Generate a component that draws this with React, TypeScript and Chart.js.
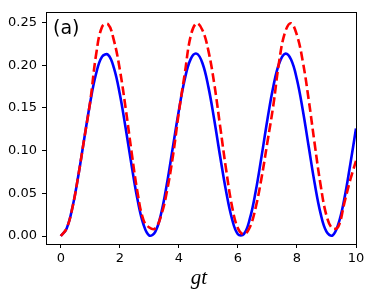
import React, { useEffect, useRef } from "react";
import { Chart, registerables } from "chart.js";

Chart.register(...registerables);

// time axis g*t
const gtValues = [
  0, 0.2, 0.4, 0.6, 0.8, 1.0, 1.2, 1.4, 1.6, 1.8,
  2.0, 2.2, 2.4, 2.6, 2.8, 3.0, 3.2, 3.4, 3.6, 3.8,
  4.0, 4.2, 4.4, 4.6, 4.8, 5.0, 5.2, 5.4, 5.6, 5.8,
  6.0, 6.2, 6.4, 6.6, 6.8, 7.0, 7.2, 7.4, 7.6, 7.8,
  8.0, 8.2, 8.4, 8.6, 8.8, 9.0, 9.2, 9.4, 9.6, 9.8,
  10.0,
];

// blue solid curve
const blueValues = [
  0, 0.0089, 0.0343, 0.0717, 0.115, 0.1569, 0.1905, 0.21, 0.2122, 0.1969,
  0.1662, 0.1258, 0.0826, 0.0427, 0.0138, 0.0006, 0.005, 0.0264, 0.062, 0.1047,
  0.147, 0.1835, 0.2071, 0.2135, 0.2023, 0.1746, 0.1359, 0.0928, 0.0523, 0.0201,
  0.0022, 0.0023, 0.0197, 0.0518, 0.093, 0.1365, 0.1751, 0.2022, 0.2134, 0.2066,
  0.1832, 0.1469, 0.1042, 0.0617, 0.0266, 0.0051, 0.0006, 0.0139, 0.0427, 0.0826,
  0.1258,
];

// red dashed curve
const redValues = [
  0, 0.009, 0.034, 0.072, 0.115, 0.158, 0.213, 0.245, 0.248, 0.229,
  0.195, 0.149, 0.098, 0.051, 0.019, 0.01, 0.009, 0.024, 0.053, 0.094,
  0.145, 0.19, 0.234, 0.249, 0.241, 0.217, 0.178, 0.128, 0.078, 0.035,
  0.009, 0.002, 0.01, 0.033, 0.068, 0.11, 0.153, 0.205, 0.239, 0.249,
  0.235, 0.204, 0.159, 0.108, 0.06, 0.024, 0.009, 0.011, 0.038, 0.065,
  0.088,
];

const xTicks = [0, 2, 4, 6, 8, 10];
const yTicks = [0, 0.05, 0.1, 0.15, 0.2, 0.25];

const panelLabel = "(a)";
const xTitle = "gt";

const framePlugin = {
  id: "frame",
  afterDraw(chart: any) {
    const { ctx, chartArea: a } = chart;
    ctx.save();
    ctx.strokeStyle = "#000";
    ctx.lineWidth = 1;
    const l = Math.floor(a.left) + 0.5;
    const t = Math.floor(a.top) + 0.5;
    const r = Math.floor(a.right) + 0.5;
    const b = Math.floor(a.bottom) + 0.5;
    ctx.strokeRect(l, t, r - l, b - t);
    ctx.fillStyle = "#000";
    ctx.font = '19px "DejaVu Sans"';
    ctx.textAlign = "left";
    ctx.textBaseline = "alphabetic";
    ctx.fillText(panelLabel, a.left + 7, a.top + 21.5);
    ctx.font = 'italic 21px "Liberation Serif"';
    ctx.textAlign = "center";
    ctx.fillText(xTitle, (a.left + a.right) / 2 - 2, 284);
    ctx.restore();
  },
};

export default function App() {
  const ref = useRef<HTMLCanvasElement | null>(null);

  useEffect(() => {
    document.body.style.margin = "0";
    const canvas = ref.current;
    if (!canvas) return;
    const chart = new Chart(canvas, {
      type: "line",
      data: {
        datasets: [
          {
            label: "red",
            data: gtValues.map((t, i) => ({ x: t, y: redValues[i] })),
            borderColor: "#ff0000",
            borderWidth: 2.6,
            borderDash: [9, 4],
            pointRadius: 0,
            tension: 0.4,
            fill: false,
            order: 0,
          },
          {
            label: "blue",
            data: gtValues.map((t, i) => ({ x: t, y: blueValues[i] })),
            borderColor: "#0000ff",
            borderWidth: 2.6,
            pointRadius: 0,
            tension: 0.4,
            fill: false,
            order: 1,
          },
        ],
      },
      options: {
        animation: false,
        responsive: true,
        maintainAspectRatio: false,
        layout: { padding: { left: 0, top: 11, right: 17, bottom: 0 } },
        plugins: {
          legend: { display: false },
          tooltip: { enabled: false },
        },
        scales: {
          x: {
            type: "linear",
            min: -0.5,
            max: 10,
            afterBuildTicks: (s: any) => {
              s.ticks = xTicks.map((v) => ({ value: v }));
            },
            afterFit: (s: any) => {
              s.height = 55;
            },
            grid: {
              display: true,
              drawOnChartArea: false,
              drawTicks: true,
              tickLength: 4,
              color: "#000",
            },
            border: { display: false },
            ticks: {
              color: "#000",
              padding: 3,
              maxRotation: 0,
              font: { family: "DejaVu Sans", size: 13 },
              callback: (v: any) => String(v),
            },
          },
          y: {
            type: "linear",
            min: -0.0093,
            max: 0.2613,
            afterBuildTicks: (s: any) => {
              s.ticks = yTicks.map((v) => ({ value: v }));
            },
            afterFit: (s: any) => {
              s.width = 46;
            },
            grid: {
              display: true,
              drawOnChartArea: false,
              drawTicks: true,
              tickLength: 4,
              color: "#000",
            },
            border: { display: false },
            ticks: {
              color: "#000",
              padding: 5,
              font: { family: "DejaVu Sans", size: 13 },
              callback: (v: any) => Number(v).toFixed(2),
            },
          },
        },
      },
      plugins: [framePlugin],
    });
    return () => chart.destroy();
  }, []);

  return (
    <div style={{ position: "relative", width: 373, height: 299 }}>
      <canvas ref={ref} />
    </div>
  );
}
